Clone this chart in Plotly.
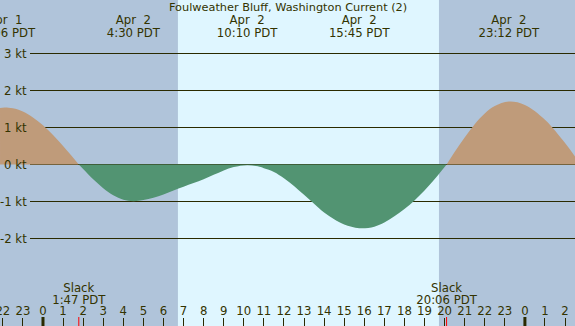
import plotly.graph_objects as go

# ---- data ----
title_text = "Foulweather Bluff, Washington Current (2)"

hours = [-2.14, -1.9, -1.5, -1.0, -0.5, 0.0, 0.5, 1.0, 1.4, 1.78,
         2.0, 2.5, 3.0, 3.5, 4.0, 4.5, 5.0, 5.5, 6.0, 6.5, 7.0, 7.5, 8.0, 8.5, 9.0, 9.5,
         10.17, 10.7, 11.0, 11.5, 12.0, 12.5, 13.0, 13.5, 14.0, 14.5, 15.0, 15.75,
         16.5, 17.0, 17.5, 18.0, 18.5, 19.0, 19.5, 20.1,
         20.5, 21.0, 21.5, 22.0, 22.5, 23.2, 24.0, 25.0, 26.0, 26.5]
knots = [1.53, 1.54, 1.52, 1.43, 1.27, 1.06, 0.80, 0.50, 0.25, 0.0,
         -0.12, -0.40, -0.64, -0.83, -0.95, -0.99, -0.96, -0.90, -0.81, -0.70, -0.60, -0.50,
         -0.40, -0.28, -0.16, -0.07,
         -0.02, -0.05, -0.10, -0.20, -0.37, -0.58, -0.82, -1.06, -1.30, -1.48, -1.62, -1.72,
         -1.68, -1.57, -1.40, -1.20, -0.97, -0.70, -0.40, 0.0,
         0.34, 0.73, 1.09, 1.38, 1.58, 1.70, 1.61, 1.21, 0.58, 0.21]

event_dates = ["Apr\u00a0\u00a01", "Apr\u00a0\u00a02", "Apr\u00a0\u00a02", "Apr\u00a0\u00a02", "Apr\u00a0\u00a02"]
event_times = ["22:06 PDT", "4:30 PDT", "10:10 PDT", "15:45 PDT", "23:12 PDT"]
event_day_offset = [-24, 0, 0, 0, 0]

slack_times = ["1:47 PDT", "20:06 PDT", "2:47 PDT"]
slack_day_offset = [0, 0, 24]

sunrise = 6.72
sunset = 19.72

kt_levels = [3, 2, 1, 0, -1, -2]
hour_ticks = list(range(-2, 27))
hour_labels = [str(h % 24) for h in hour_ticks]
midnights = [0, 24]

# ---- styling ----
NIGHT = "#b0c4da"
DAY = "#dff6ff"
FLOOD = "#bf9b7a"
EBB = "#529472"
TXT = "#333300"
LINE = "#2a2a00"
FONT = "DejaVu Sans"
FS = 11.7

X0, X1 = -2.141, 26.495
Y0, Y1 = -4.3649, 4.4459


def hhmm(s):
    hm = s.split()[0]
    h, m = hm.split(":")
    return int(h) + int(m) / 60.0


def py(p):  # pixel row -> data value (for label placement)
    return Y1 - p / 326.0 * (Y1 - Y0)


fig = go.Figure()

# split curve into flood / ebb segments
segments = []
cur_x, cur_y = [hours[0]], [knots[0]]
cur_sign = 1 if knots[0] > 0 else -1
for h, k in zip(hours[1:], knots[1:]):
    cur_x.append(h)
    cur_y.append(k)
    if k == 0:
        segments.append((cur_sign, cur_x, cur_y))
        cur_x, cur_y = [h], [k]
        cur_sign = -cur_sign
segments.append((cur_sign, cur_x, cur_y))

for sign, xs, ys in segments:
    fig.add_trace(go.Scatter(
        x=xs, y=ys, mode="lines", line=dict(width=0, shape="spline", smoothing=1.0),
        fill="tozeroy", fillcolor=FLOOD if sign > 0 else EBB,
        hoverinfo="skip", showlegend=False))

tf = dict(family=FONT, size=FS, color=TXT)

# event labels (top)
ev_x = [hhmm(t) + o for t, o in zip(event_times, event_day_offset)]
fig.add_trace(go.Scatter(x=ev_x, y=[py(21)] * len(ev_x), mode="text", text=event_dates,
                         textfont=tf, cliponaxis=False, hoverinfo="skip", showlegend=False))
fig.add_trace(go.Scatter(x=ev_x, y=[py(34)] * len(ev_x), mode="text", text=event_times,
                         textfont=tf, cliponaxis=False, hoverinfo="skip", showlegend=False))

# slack labels (bottom)
sl_x = [hhmm(t) + o for t, o in zip(slack_times, slack_day_offset)]
fig.add_trace(go.Scatter(x=sl_x, y=[py(289)] * len(sl_x), mode="text", text=["Slack"] * len(sl_x),
                         textfont=tf, cliponaxis=False, hoverinfo="skip", showlegend=False))
fig.add_trace(go.Scatter(x=sl_x, y=[py(301)] * len(sl_x), mode="text", text=slack_times,
                         textfont=tf, cliponaxis=False, hoverinfo="skip", showlegend=False))

# first hour label is cut by the left edge (plotly hides overflowing inside tick labels)
fig.add_trace(go.Scatter(x=hour_ticks[:1], y=[py(312)], mode="text", text=hour_labels[:1],
                         textfont=tf, cliponaxis=False, hoverinfo="skip", showlegend=False))

shapes = []
# day / night backgrounds
shapes.append(dict(type="rect", xref="x", yref="paper", x0=X0, x1=X1, y0=0, y1=1,
                   fillcolor=DAY, line_width=0, layer="below"))
shapes.append(dict(type="rect", xref="x", yref="paper", x0=X0, x1=sunrise, y0=0, y1=1,
                   fillcolor=NIGHT, line_width=0, layer="below"))
shapes.append(dict(type="rect", xref="x", yref="paper", x0=sunset, x1=X1, y0=0, y1=1,
                   fillcolor=NIGHT, line_width=0, layer="below"))
# kt grid lines
for lv in kt_levels:
    shapes.append(dict(type="line", xref="paper", yref="y", x0=30 / 575, x1=1, y0=lv, y1=lv,
                       line=dict(color=LINE, width=1), layer="below"))
# midnight thick ticks
for m in midnights:
    shapes.append(dict(type="line", xref="x", yref="paper", x0=m, x1=m, y0=0, y1=9 / 326,
                       line=dict(color=LINE, width=3)))
# slack red ticks
for s in sl_x:
    shapes.append(dict(type="line", xref="x", yref="paper", x0=s, x1=s, y0=0, y1=9 / 326,
                       line=dict(color="#ff0000", width=1)))

annotations = [dict(text=title_text, xref="paper", yref="paper", x=0.5, y=1, yshift=1,
                    xanchor="center", yanchor="top", showarrow=False,
                    font=dict(family=FONT, size=11.3, color=TXT))]
for lv in kt_levels:
    annotations.append(dict(text=f"{lv} kt", xref="paper", yref="y", x=29 / 575, y=lv,
                            xanchor="right", yanchor="middle", showarrow=False,
                            font=tf))

fig.update_layout(
    width=575, height=326, margin=dict(l=0, r=0, t=0, b=0),
    paper_bgcolor=DAY, plot_bgcolor=DAY,
    shapes=shapes, annotations=annotations, showlegend=False,
    xaxis=dict(range=[X0, X1], showgrid=False, zeroline=False, showline=False,
               tickmode="array", tickvals=hour_ticks, ticktext=hour_labels,
               ticks="inside", ticklen=8, tickwidth=1, tickcolor=LINE,
               ticklabelposition="inside", tickfont=tf,
               fixedrange=True),
    yaxis=dict(range=[Y0, Y1], visible=False, fixedrange=True),
)

fig.write_html("out.html", config={"displayModeBar": False},
               post_script="document.body.style.margin='0px';document.body.style.overflow='hidden';")
